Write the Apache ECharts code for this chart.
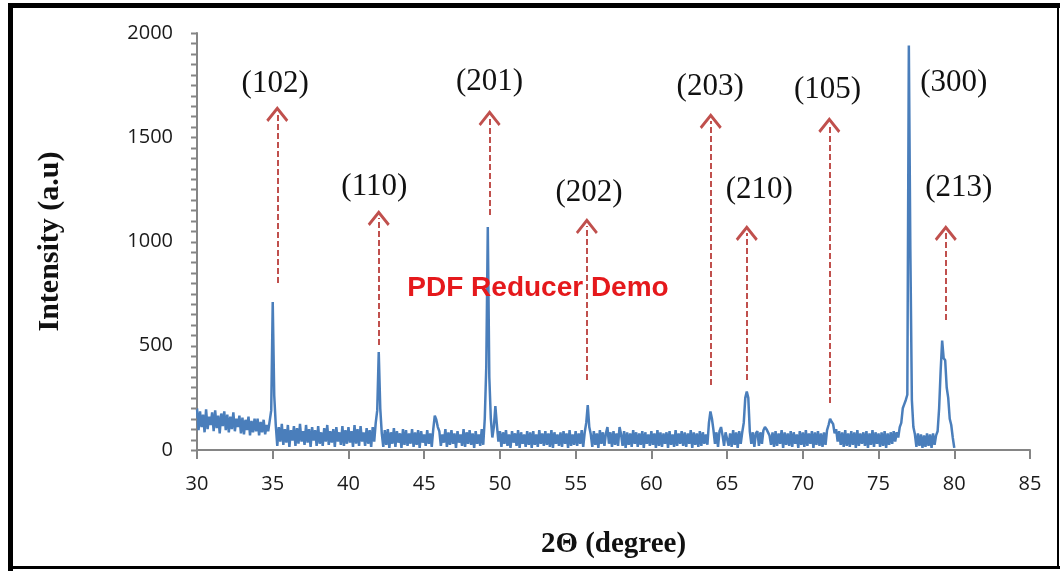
<!DOCTYPE html>
<html>
<head>
<meta charset="utf-8">
<script src="https://cdn.jsdelivr.net/npm/echarts@6/dist/echarts.min.js"></script>
<style>
  html, body { margin: 0; padding: 0; background: #fff; }
  #xrd { width: 1060px; height: 571px; }
</style>
</head>
<body>
<div id="xrd"></div>
<script>
// 2theta scan, 30.0 .. 80.0 deg, one row per degree (x.0 .. x.9)
const startAngle = 30;
const stepAngle = 0.1;
const intensityRows = [
  [200,95,185,110,170,85,195,100,160,120],
  [180,90,190,105,165,80,175,115,185,95],
  [170,85,160,100,180,90,150,110,165,80],
  [155,75,145,95,160,70,140,85,150,90],
  [150,70,135,85,145,75,120,90,140,190],
  [710,260,120,20,110,40,125,25,100,35],
  [120,15,95,45,115,20,105,30,125,40],
  [90,25,120,35,100,15,110,45,95,20],
  [115,30,85,20,105,40,120,25,90,35],
  [100,15,110,40,85,25,115,20,95,30],
  [110,35,90,15,120,30,100,20,115,40],
  [85,20,105,30,95,15,110,40,130,190],
  [470,200,80,15,95,25,100,10,85,30],
  [105,15,90,35,80,10,100,25,95,20],
  [80,30,100,15,85,25,95,10,90,35],
  [75,20,95,30,80,15,100,165,145,110],
  [90,20,75,35,100,15,85,25,95,30],
  [80,10,90,35,75,20,100,15,85,30],
  [95,25,80,10,90,30,75,20,100,25],
  [150,400,1070,350,150,60,110,210,120,40],
  [90,15,85,30,95,20,75,10,90,35],
  [80,20,95,10,85,30,75,15,90,25],
  [85,10,90,25,75,15,95,30,80,20],
  [90,25,80,15,95,10,85,30,75,20],
  [85,15,90,30,80,10,95,20,75,25],
  [90,20,80,30,95,15,85,130,215,110],
  [75,15,90,25,80,10,95,30,85,20],
  [80,110,30,85,15,90,25,80,20,110],
  [75,20,90,10,85,25,80,15,95,30],
  [85,15,80,25,90,10,85,30,75,20],
  [90,25,80,10,95,20,85,15,80,30],
  [85,10,90,25,75,15,95,20,80,30],
  [90,20,85,15,80,30,95,10,85,25],
  [80,15,90,20,85,30,75,25,130,185],
  [150,95,30,85,15,90,110,70,20,85],
  [90,20,80,15,95,25,85,10,90,30],
  [85,130,250,280,250,90,30,85,15,80],
  [90,20,85,30,95,110,100,95,70,25],
  [85,15,90,20,80,30,95,10,85,25],
  [80,20,90,15,85,30,75,10,90,25],
  [85,15,95,20,80,30,90,10,85,25],
  [90,20,80,15,85,25,95,120,150,135],
  [125,80,100,40,90,25,85,15,95,20],
  [80,15,90,25,85,10,95,20,80,30],
  [85,20,90,10,80,25,95,15,85,30],
  [80,15,85,20,90,10,80,25,85,30],
  [90,40,85,60,110,130,200,220,240,265],
  [1940,960,240,110,75,15,80,20,75,10],
  [70,15,80,20,75,10,80,25,70,90],
  [200,380,525,440,430,300,250,150,120,60],
  [10]
];

// peak labels
const hklNames = ['(102)','(110)','(201)','(202)','(203)','(210)','(105)','(300)','(213)'];
const hklX     = [35.16, 41.71, 49.32, 55.88, 63.88, 67.13, 71.63, 79.97, 80.3];
const hklY     = [1755, 1261, 1765, 1233, 1741, 1247, 1727, 1760, 1257];

// dashed arrows (x, from, to)
const arrowX    = [35.3, 42.0, 49.32, 55.74, 63.92, 66.3, 71.75, 79.44];
const arrowFrom = [801, 504, 1127, 336, 312, 336, 225, 624];
const arrowTo   = [1612, 1113, 1592, 1074, 1578, 1041, 1559, 1041];

const yMinorStep = 50;

const scan = [];
intensityRows.forEach(function (row, r) {
  row.forEach(function (v, c) {
    const x = +(startAngle + (r * 10 + c) * stepAngle).toFixed(1);
    scan.push([x, v]);
  });
});

const chevron = 'path://M11,0 L22,13 L20,15 L11,4.5 L2,15 L0,13 Z';
const axisGray = '#858585';

const chart = echarts.init(document.getElementById('xrd'));
chart.setOption({
  animation: false,
  backgroundColor: '#fff',
  grid: { left: 197, right: 30, top: 33, bottom: 121, containLabel: false },
  xAxis: {
    type: 'value',
    min: 30, max: 85, interval: 5,
    name: '2\u0398 (degree)',
    nameLocation: 'middle',
    nameGap: 80,
    nameTextStyle: { fontFamily: 'Liberation Serif', fontWeight: 'bold', fontSize: 29, color: '#111' },
    axisLine: { lineStyle: { color: axisGray, width: 2 } },
    axisTick: { show: true, inside: false, length: 9, lineStyle: { color: axisGray, width: 2 } },
    axisLabel: { margin: 24, fontFamily: 'Open Sans', fontSize: 20, color: '#1a1a1a' },
    splitLine: { show: false }
  },
  yAxis: {
    type: 'value',
    min: 0, max: 2000, interval: 500,
    name: 'Intensity (a.u)',
    nameLocation: 'middle',
    nameGap: 132,
    nameTextStyle: { fontFamily: 'Liberation Serif', fontWeight: 'bold', fontSize: 30, color: '#111' },
    axisLine: { show: true, lineStyle: { color: axisGray, width: 2 } },
    axisTick: { show: false },
    axisLabel: {
      margin: 24, fontFamily: 'Open Sans', fontSize: 20, color: '#1a1a1a',
      formatter: function (v) { return String(v); }
    },
    splitLine: { show: false }
  },
  series: [{
    type: 'line',
    data: scan,
    showSymbol: false,
    lineStyle: { color: '#4a7ebb', width: 2.5 },
    itemStyle: { color: '#4a7ebb' },
    markLine: {
      silent: true,
      symbol: ['none', chevron],
      symbolSize: [22, 16],
      lineStyle: { color: '#c0504d', width: 2, type: [6, 3] },
      label: { show: false },
      data: arrowX.map(function (x, i) {
        return [{ coord: [x, arrowFrom[i]] }, { coord: [x, arrowTo[i]] }];
      })
    },
    markPoint: {
      silent: true,
      symbol: 'rect',
      symbolSize: 1,
      itemStyle: { color: 'rgba(0,0,0,0)' },
      label: {
        show: true, position: 'inside', formatter: '{b}',
        fontFamily: 'Liberation Serif', fontSize: 31, color: '#111'
      },
      data: hklNames.map(function (n, i) {
        return { name: n, coord: [hklX[i], hklY[i]] };
      })
    }
  }]
});

// y ticks every 50, placed through the axis scale
const axisX = chart.convertToPixel({ xAxisIndex: 0 }, 30);
const tickMarks = [];
for (let v = 0; v <= 2000; v += yMinorStep) {
  const py = Math.round(chart.convertToPixel({ yAxisIndex: 0 }, v)) + 0.5;
  tickMarks.push({
    type: 'line', z: 50, silent: true,
    shape: { x1: axisX - 6, y1: py, x2: axisX, y2: py },
    style: { stroke: axisGray, lineWidth: 2 }
  });
}

chart.setOption({
  graphic: tickMarks.concat([
    { type: 'rect', shape: { x: 8, y: 3, width: 1052, height: 5 }, style: { fill: '#000' }, z: 100 },
    { type: 'rect', shape: { x: 8, y: 3, width: 5, height: 568 }, style: { fill: '#000' }, z: 100 },
    { type: 'rect', shape: { x: 8, y: 566, width: 1052, height: 3 }, style: { fill: '#000' }, z: 100 },
    { type: 'rect', shape: { x: 1057, y: 3, width: 2, height: 566 }, style: { fill: '#000' }, z: 100 },
    {
      type: 'text', z: 100,
      style: {
        x: 538, y: 288, text: 'PDF Reducer Demo',
        font: 'bold 28px "Liberation Sans"', fill: '#e5191c',
        textAlign: 'center', textVerticalAlign: 'middle'
      }
    }
  ])
});
</script>
</body>
</html>
